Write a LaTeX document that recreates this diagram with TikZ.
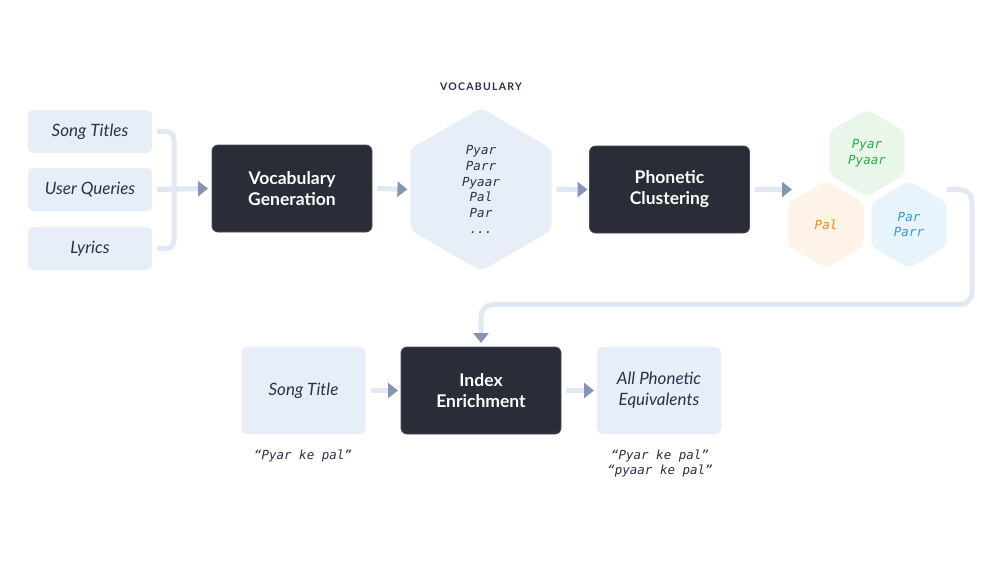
\documentclass[tikz,border=0pt]{standalone}
\usepackage{fontspec}
\setmainfont{Lato}
\newfontfamily\monof{DejaVu Sans Mono}
\newfontfamily\capsf[LetterSpace=12]{Lato}
\usetikzlibrary{arrows.meta,shapes.geometric}
\definecolor{lightfill}{HTML}{E8EEF8}
\definecolor{darkfill}{HTML}{2A2D37}
\definecolor{darkedge}{HTML}{474B57}
\definecolor{linec}{HTML}{E2E8F3}
\definecolor{tipc}{HTML}{8794B8}
\definecolor{ink}{HTML}{2B3148}
\definecolor{greenfill}{HTML}{EAF6EA}
\definecolor{greenink}{HTML}{2BA84A}
\definecolor{orangefill}{HTML}{FEF3E8}
\definecolor{orangeink}{HTML}{F08A1C}
\definecolor{bluefill}{HTML}{E8F4FC}
\definecolor{blueink}{HTML}{2A9BD8}
\tikzset{
  lightbox/.style={fill=lightfill, rounded corners=5pt, minimum width=124pt, minimum height=43pt, inner sep=0pt, outer sep=0pt, text=ink, font=\fontsize{17}{21}\selectfont\itshape, align=center},
  darkbox/.style={fill=darkfill, draw=darkedge, line width=0.8pt, rounded corners=6pt, minimum width=160pt, minimum height=87pt, inner sep=0pt, outer sep=0pt, text=white, font=\fontsize{17.5}{21}\selectfont\bfseries, align=center},
  hexnode/.style={regular polygon, regular polygon sides=6, shape border rotate=30, rounded corners=6pt, inner sep=0pt, outer sep=0pt, align=center, font=\monof\itshape\fontsize{12.5}{15.7}\selectfont},
  plainline/.style={draw=linec, line width=5pt},
  conn/.style={draw=linec, line width=5pt, -{Triangle[length=10pt,width=15pt,color=tipc]}},
  caption/.style={text=ink, align=center, inner sep=0pt, font=\monof\itshape\fontsize{12.5}{15.7}\selectfont}
}
\begin{document}
\begin{tikzpicture}[x=1pt,y=-1pt]
\useasboundingbox[fill=white] (0,0) rectangle (1000,562);
% inputs
\node[lightbox] (t1) at (90,131.5) {Song Titles};
\node[lightbox] (t2) at (90,189.5) {User Queries};
\node[lightbox] (t3) at (90,248.5) {Lyrics};
\node[darkbox] (vg) at (292,188.5) {Vocabulary\\Generation};
\node[hexnode, fill=lightfill, text=ink, minimum size=163pt] (voc) at (481,189.5) {Pyar\\Parr\\Pyaar\\Pal\\Par\\...};
\node[text=ink, font=\capsf\bfseries\fontsize{10.5}{12}\selectfont] (voclabel) at (481,87) {VOCABULARY};
\node[darkbox] (pc) at (669.5,189.5) {Phonetic\\Clustering};
\node[hexnode, fill=greenfill, text=greenink, minimum size=87pt] (hg) at (867,153) {Pyar\\Pyaar};
\node[hexnode, fill=orangefill, text=orangeink, minimum size=87pt] (ho) at (826,224.5) {Pal};
\node[hexnode, fill=bluefill, text=blueink, minimum size=87pt] (hb) at (909,224.5) {Par\\Parr};
% bottom row
\node[lightbox, minimum height=87pt] (st) at (303.5,390.5) {Song Title};
\node[darkbox] (ie) at (481,390.5) {Index\\Enrichment};
\node[lightbox, minimum height=87pt] (ape) at (659,390.5) {All Phonetic\\Equivalents};
\node[caption] (cap1) at (303,456) {“Pyar ke pal”};
\node[caption] (cap2) at (660,463.5) {“Pyar ke pal”\\“pyaar ke pal”};
% connectors
\draw[plainline, rounded corners=8pt] ([xshift=5pt]t1.east) -- ++(17,0) |- ([xshift=5pt]t3.east);
\draw[conn] ([xshift=5pt]t2.east) -- ([xshift=-4pt]vg.west);
\draw[conn] ([xshift=5pt]vg.east) -- ([xshift=-3pt]voc.west);
\draw[conn] ([xshift=5pt]voc.east) -- ([xshift=-2pt]pc.west);
\coordinate (cin) at (792,189.5);
\draw[conn] ([xshift=5pt]pc.east) -- (cin);
\coordinate (cout) at (947,189.5);
\coordinate (rt) at (972,304.5);
\draw[conn, rounded corners=12pt] (cout) -| (rt) -| ([yshift=4pt]ie.north);
\draw[conn] ([xshift=5pt]st.east) -- ([xshift=-3pt]ie.west);
\draw[conn] ([xshift=5pt]ie.east) -- ([xshift=-3pt]ape.west);
\end{tikzpicture}
\end{document}
